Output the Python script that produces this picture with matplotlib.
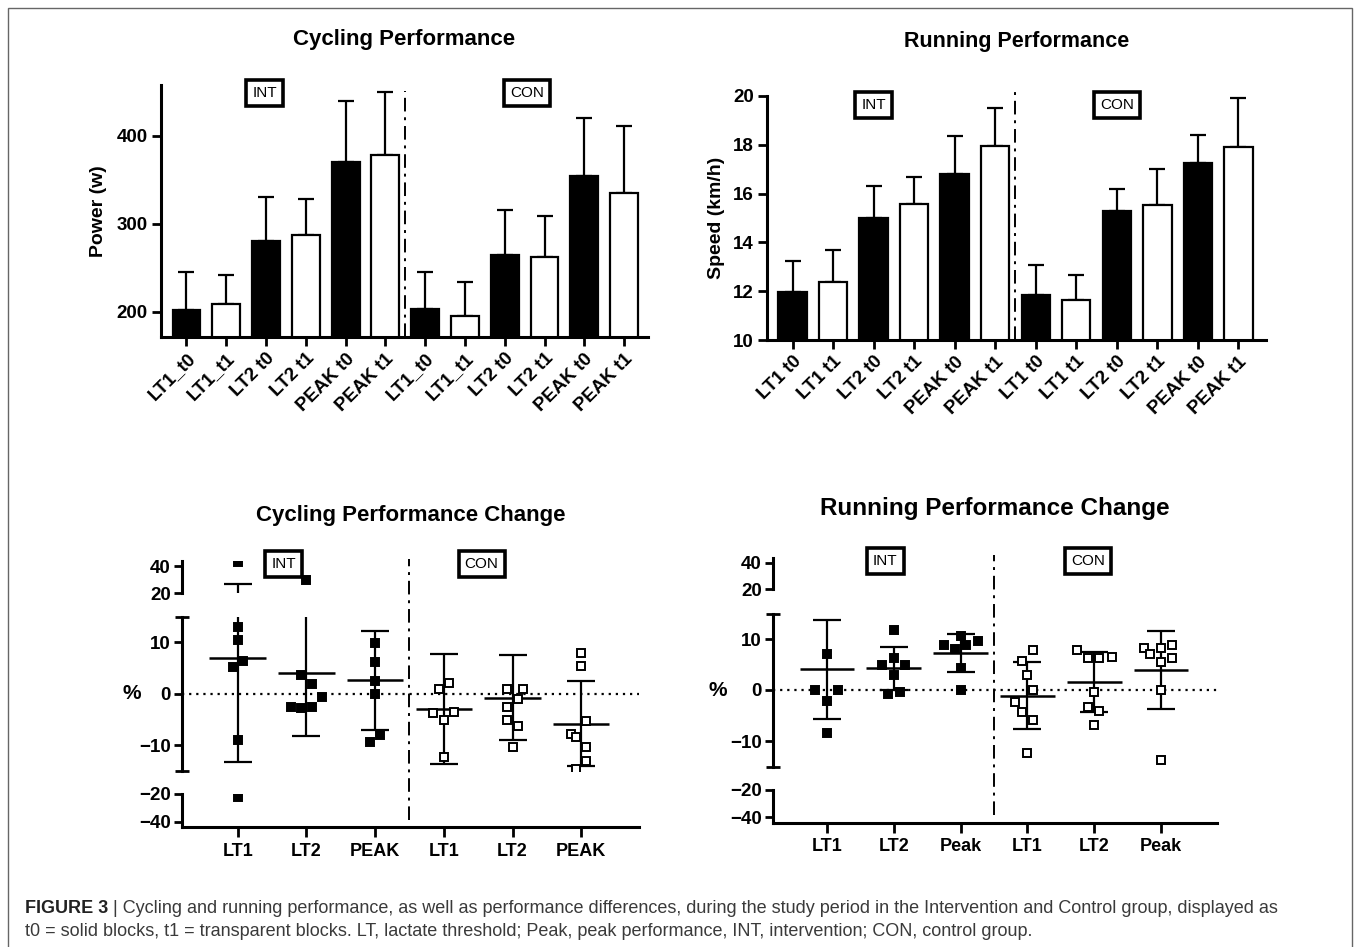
import numpy as np
import matplotlib.pyplot as plt
from matplotlib.patches import Rectangle

plt.rcParams['font.family'] = ['Liberation Sans', 'DejaVu Sans']

W, H = 1360, 947

# ---- top row: mean + upper SD ----
cyc_labels = ['LT1_t0', 'LT1_t1', 'LT2 t0', 'LT2 t1', 'PEAK t0', 'PEAK t1'] * 2
cyc_mean = [202, 208.7, 280.8, 287.3, 370, 378.4, 203.4, 195.4, 264.5, 261.9, 354.8, 335]
cyc_sd = [43.5, 33, 50.2, 40.7, 70, 71.6, 41.4, 38.8, 51.2, 47.1, 65.7, 76.4]

run_labels = ['LT1 t0', 'LT1 t1', 'LT2 t0', 'LT2 t1', 'PEAK t0', 'PEAK t1'] * 2
run_mean = [11.95, 12.38, 15.0, 15.59, 16.79, 17.95, 11.86, 11.64, 15.27, 15.52, 17.24, 17.91]
run_sd = [1.30, 1.31, 1.33, 1.10, 1.57, 1.54, 1.21, 1.01, 0.90, 1.48, 1.15, 2.01]

# ---- bottom row: individual change (%) with mean +- SD ----
cyc_chg_labels = ['LT1', 'LT2', 'PEAK'] * 2
cyc_chg_pts = [
    [43.0, 13.0, 10.4, 5.2, 6.3, -9.1, -21.9],
    [30.2, 3.6, 1.8, -0.7, -2.5, -2.7, -2.6],
    [9.8, 6.1, 2.5, 0.0, -8.1, -9.45],
    [2.1, 0.85, -3.8, -3.6, -5.1, -12.4],
    [0.98, 0.85, -1.0, -2.6, -5.1, -6.3, -10.4],
    [7.95, 5.3, -5.4, -7.8, -8.5, -10.4, -13.2, -14.7],
]
cyc_chg_mean = [6.9, 4.0, 2.6, -2.9, -0.8, -5.86]
cyc_chg_sd = [20.3, 12.2, 9.65, 10.7, 8.25, 8.25]

run_chg_labels = ['LT1', 'LT2', 'Peak'] * 2
run_chg_pts = [
    [7.0, 0.0, 0.0, -2.1, -8.5],
    [11.8, 6.3, 4.9, 4.9, 2.9, -0.3, -0.8],
    [10.65, 8.8, 8.0, 8.8, 9.7, 4.25, 0.0],
    [7.8, 5.75, 2.9, 0.0, -2.3, -4.25, -5.9, -12.4],
    [7.8, 6.3, 6.3, 6.5, -0.45, -3.3, -4.05, -6.9],
    [8.3, 7.06, 8.2, 8.8, 6.2, 5.4, 0.0, -13.7],
]
run_chg_mean = [4.1, 4.25, 7.2, -1.1, 1.5, 3.9]
run_chg_sd = [9.7, 4.25, 3.75, 6.6, 5.9, 7.6]

# horizontal scatter of the points, as drawn in the figure
cyc_chg_jit = [
    [0, 0, 0, -0.075, 0.08, 0, 0],
    [0, -0.085, 0.075, 0.225, -0.225, -0.075, 0.075],
    [0, 0, 0, 0, 0.075, -0.075],
    [0.075, -0.075, -0.16, 0.15, 0, 0],
    [-0.075, 0.15, 0.075, -0.075, -0.075, 0.075, 0],
    [0, 0, 0.075, -0.15, -0.075, 0.075, 0.075, -0.075],
]
run_chg_jit = [
    [0, -0.18, 0.17, 0, 0],
    [0, 0, -0.18, 0.17, 0, 0.086, -0.086],
    [0, -0.25, -0.08, 0.086, 0.257, 0, 0],
    [0.09, -0.08, 0, 0.09, -0.18, -0.08, 0.09, 0],
    [-0.26, -0.09, 0.08, 0.26, 0, -0.09, 0.08, 0],
    [-0.26, -0.17, 0, 0.17, 0.17, 0, 0, 0],
]

LW = 2.2


def fig_rect(x0, x1, y0, y1):
    # pixel box (y measured from the top) -> figure fraction
    return [x0 / W, 1 - y1 / H, (x1 - x0) / W, (y1 - y0) / H]


def group_box(ax, x, y, text):
    ax.text(x, y, text, ha='center', va='center', fontsize=11, fontweight='normal',
            bbox=dict(boxstyle='square,pad=0.4', fc='white', ec='black', lw=2.6), zorder=5)


def bar_panel(box, labels, mean, sd, ylim, yticks, xlim, ylabel, ylabel_x,
              title, title_y, title_fs, int_xy, con_xy, div_top):
    ax = fig.add_axes(fig_rect(*box))
    x = np.arange(len(mean))
    fill = ['black', 'white'] * 6
    ax.errorbar(x, mean, yerr=[np.zeros(len(sd)), sd], fmt='none', ecolor='black',
                elinewidth=1.6, capsize=5.5, capthick=1.6, zorder=1)
    ax.bar(x, mean, width=0.7, color=fill, edgecolor='black', linewidth=1.6, zorder=2)
    ax.axvline(5.5, ymax=div_top, color='black', lw=1.4, ls=(0, (7, 3, 1.5, 3)),
               clip_on=False, zorder=0)
    ax.set_xlim(*xlim)
    ax.set_ylim(*ylim)
    ax.set_yticks(yticks)
    ax.set_xticks(x, labels, rotation=45, ha='right', rotation_mode='anchor')
    for s in ['top', 'right']:
        ax.spines[s].set_visible(False)
    for s in ['left', 'bottom']:
        ax.spines[s].set_linewidth(LW)
    ax.tick_params(axis='both', direction='out', length=6.5, width=2, labelsize=13.5, pad=3)
    for t in ax.get_xticklabels() + ax.get_yticklabels():
        t.set_fontweight('bold')
    ax.set_ylabel(ylabel, fontsize=14, fontweight='bold')
    ax.yaxis.set_label_coords(ylabel_x, 0.5)
    group_box(ax, *int_xy, 'INT')
    group_box(ax, *con_xy, 'CON')
    cx = (box[0] + box[1]) / 2
    fig.text(cx / W, 1 - title_y / H, title, ha='center', va='center',
             fontsize=title_fs, fontweight='bold')
    return ax


def change_panel(x0, x1, segs, labels, pts, jit, mean, sd, title, title_y, title_fs,
                 int_x, con_x, div_px, pct_x):
    lims = [(20, 44), (-15, 15), (-44, -20)]
    majors = [[20, 40], [-10, 0, 10], [-40, -20]]
    minors = [[20], [-15, 15], [-20]]
    minor_dir = ['in', 'inout', 'in']
    axes = []
    for k, ((y0, y1), lim) in enumerate(zip(segs, lims)):
        ax = fig.add_axes(fig_rect(x0, x1, y0, y1))
        ax.set_facecolor('none')
        ax.set_xlim(-0.81, 5.84)
        ax.set_ylim(*lim)
        for i in range(6):
            xs = i + np.array(jit[i])
            face = 'black' if i < 3 else 'white'
            ax.errorbar(i, mean[i], yerr=sd[i], fmt='none', ecolor='black',
                        elinewidth=1.6, capsize=10, capthick=1.6, zorder=2)
            ax.hlines(mean[i], i - 0.41, i + 0.41, color='black', lw=1.8, zorder=2)
            ax.plot(xs, pts[i], 's', ms=5.2 if i < 3 else 5.6, mfc=face, mec='black',
                    mew=1.4, ls='none', zorder=3)
        for s in ['top', 'right']:
            ax.spines[s].set_visible(False)
        ax.spines['left'].set_linewidth(LW)
        ax.set_yticks(majors[k])
        ax.set_yticks(minors[k], minor=True)
        ax.tick_params(axis='y', which='major', direction='out', length=6, width=2,
                       labelsize=13.5, pad=2)
        ax.tick_params(axis='y', which='minor', direction=minor_dir[k],
                       length=10 if k == 1 else 6, width=2)
        for t in ax.get_yticklabels():
            t.set_fontweight('bold')
        if k < 2:
            ax.spines['bottom'].set_visible(False)
            ax.set_xticks([])
        else:
            ax.spines['bottom'].set_linewidth(LW)
            ax.set_xticks(range(6), labels)
            ax.tick_params(axis='x', direction='out', length=7, width=2, labelsize=13, pad=4)
            for t in ax.get_xticklabels():
                t.set_fontweight('bold')
        axes.append(ax)
    top, mid, bot = axes
    mid.axhline(0, color='black', lw=1.6, ls=(0, (1, 2.2)), zorder=1)
    my0, my1 = segs[1]
    mh = my1 - my0
    mid.axvline(2.5, ymin=(my1 - div_px[1]) / mh, ymax=(my1 - div_px[0]) / mh,
                color='black', lw=1.4, ls=(0, (7, 3, 1.5, 3)), clip_on=False, zorder=1)
    mid.set_ylabel('%', rotation=0, fontsize=15, fontweight='bold', va='center', ha='center')
    mid.yaxis.set_label_coords(pct_x, 0.5)
    group_box(top, int_x, 41.7, 'INT')
    group_box(top, con_x, 41.7, 'CON')
    fig.text((x0 + x1) / 2 / W, 1 - title_y / H, title, ha='center', va='center',
             fontsize=title_fs, fontweight='bold')


fig = plt.figure(figsize=(W / 100, H / 100), dpi=100)

bar_panel((161, 648, 85, 337), cyc_labels, cyc_mean, cyc_sd, (171.2, 458), [200, 300, 400],
          (-0.64, 11.6), 'Power (w)', -0.11, 'Cycling Performance', 39, 16,
          (1.97, 448.6), (8.57, 448.6), 0.976)
bar_panel((767, 1266, 96, 340), run_labels, run_mean, run_sd, (10, 20), [10, 12, 14, 16, 18, 20],
          (-0.63, 11.68), 'Speed (km/h)', -0.085, 'Running Performance', 42, 15.5,
          (2.0, 19.63), (8.0, 19.63), 1.022)

change_panel(182, 639, [(561, 593.3), (616.7, 770.7), (794, 827.3)], cyc_chg_labels,
             cyc_chg_pts, cyc_chg_jit, cyc_chg_mean, cyc_chg_sd,
             'Cycling Performance Change', 515, 16, 0.67, 3.55, (559, 820), -0.109)
change_panel(773, 1217, [(557.7, 589.3), (613.5, 766.5), (790, 822.5)], run_chg_labels,
             run_chg_pts, run_chg_jit, run_chg_mean, run_chg_sd,
             'Running Performance Change', 508, 17.5, 0.87, 3.91, (555, 815), -0.124)

# outer frame
fig.patches.append(Rectangle((8 / W, -0.02), (1352 - 8) / W, 1 - 8 / H + 0.02,
                             transform=fig.transFigure, fill=False, ec='#666666', lw=1))

# caption, sized so the first line spans the same width as in the figure
cap_color = '#3a3a3a'
line1 = ('| Cycling and running performance, as well as performance differences, during the '
         'study period in the Intervention and Control group, displayed as')
line2 = ('t0 = solid blocks, t1 = transparent blocks. LT, lactate threshold; Peak, peak '
         'performance, INT, intervention; CON, control group.')
renderer = fig.canvas.get_renderer()
fs = 12
head = fig.text(25 / W, 1 - 913 / H, 'FIGURE 3 ', fontsize=fs, fontweight='bold',
                color='#222222', va='baseline')
rest = fig.text(0, 1 - 913 / H, line1, fontsize=fs, color=cap_color, va='baseline')
total = head.get_window_extent(renderer).width + rest.get_window_extent(renderer).width
fs = fs * (1283 - 25) / total
head.set_fontsize(fs)
rest.set_fontsize(fs)
hw = head.get_window_extent(renderer).width
rest.set_x((25 + hw) / W)
fig.text(25 / W, 1 - 936 / H, line2, fontsize=fs, color=cap_color, va='baseline')

fig.savefig('out.png', dpi=100)
